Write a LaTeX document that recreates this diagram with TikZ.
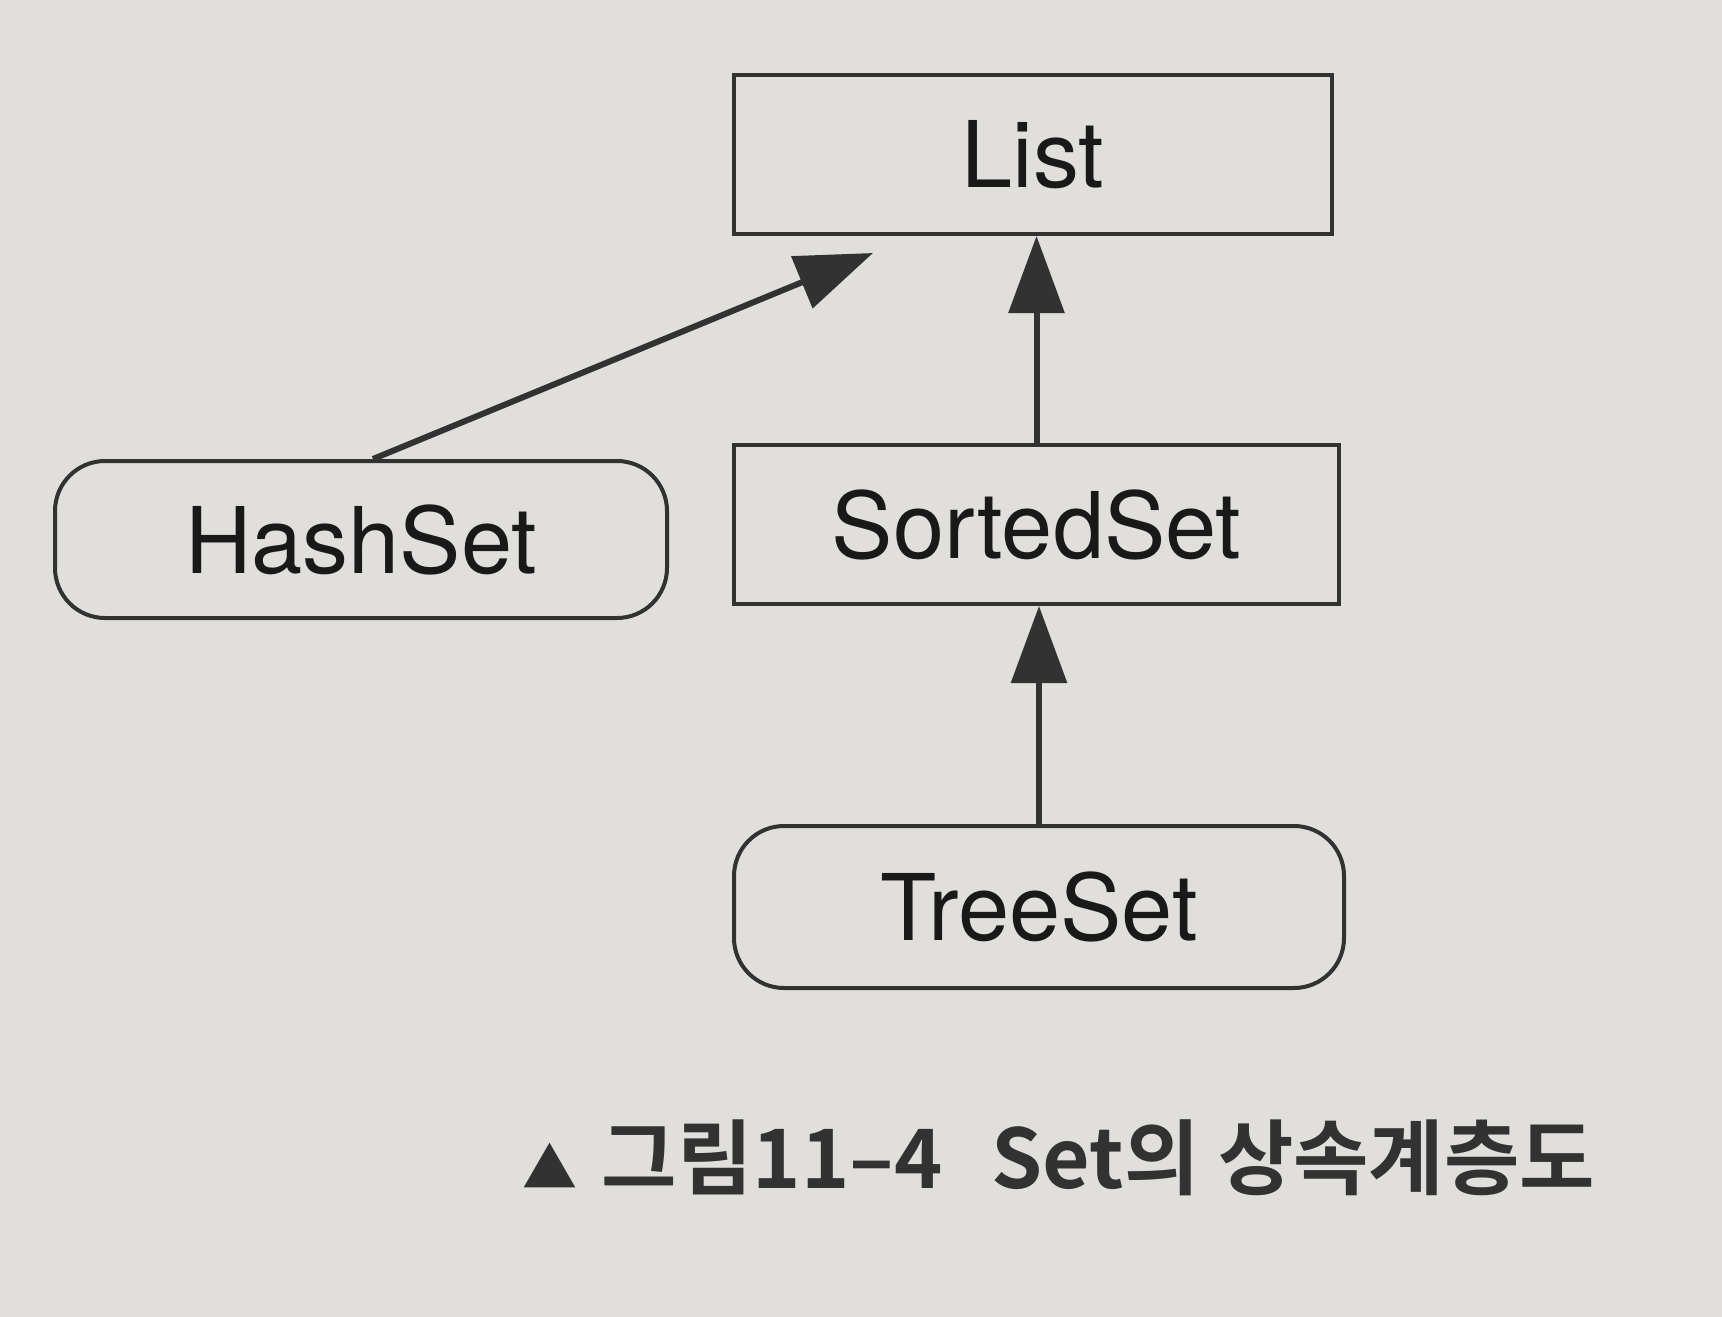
\documentclass[tikz,border=0pt]{standalone}
\usepackage{fontspec}
\setmainfont{TeX Gyre Heros}
\newfontfamily\krfont{Noto Sans CJK KR Bold}
\usetikzlibrary{arrows.meta}
\definecolor{paper}{RGB}{224,223,220}
\definecolor{ink}{RGB}{50,50,50}

\begin{document}
\begin{tikzpicture}[x=1pt, y=-1pt,
    classbox/.style={draw=ink, line width=4pt, minimum width=598pt, minimum height=159pt,
        font=\fontsize{92}{100}\selectfont, text=black!90},
    implbox/.style={classbox, rounded corners=50pt},
    inherit/.style={draw=ink, line width=6pt, -{Triangle[length=77pt, width=55pt]}}]
    % Paper background
    \fill[paper] (0,0) rectangle (1722,1317);
    \useasboundingbox (0,0) rectangle (1722,1317);

    % Draw the interfaces and classes
    \node[classbox] (list) at (1033,154.5) {List};
    \node[classbox, minimum width=605pt] (sortedset) at (1036.5,524.5) {SortedSet};
    \node[implbox, minimum width=612pt, minimum height=157pt] (hashset) at (361,539.5) {HashSet};
    \node[implbox, minimum width=610pt, minimum height=162pt] (treeset) at (1039,907) {TreeSet};

    % Draw the inheritance arrows
    \coordinate (hashtip) at (873,253);
    \draw[inherit] ([xshift=12pt]hashset.north) -- (hashtip);
    \draw[inherit] (sortedset.north) -- (sortedset.north |- list.south);
    \draw[inherit] (treeset.north) -- (treeset.north |- sortedset.south);

    % Caption
    \node[anchor=west, inner sep=0pt, text=ink, font=\krfont\fontsize{82}{88}\selectfont] (caption) at (522,1158)
        {{\fontsize{55}{55}\selectfont ▲}\hspace{0.3em}그림11–4\hspace{0.6em}Set의 상속계층도};
\end{tikzpicture}
\end{document}
